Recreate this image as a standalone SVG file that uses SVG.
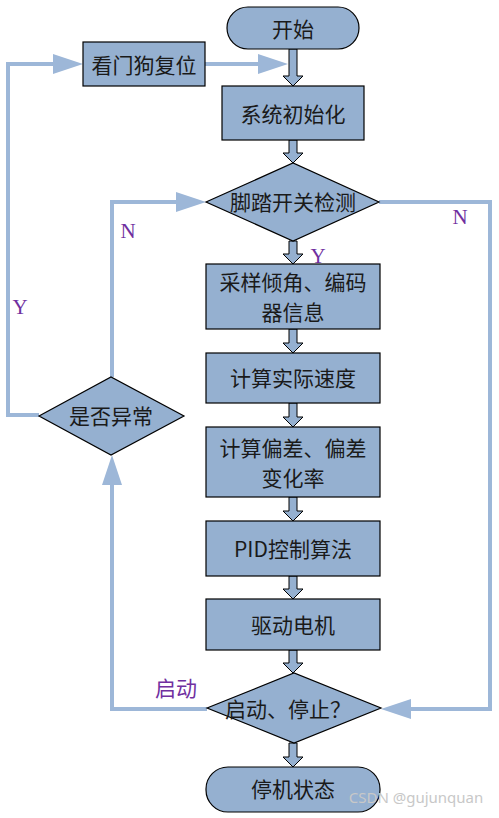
<svg xmlns="http://www.w3.org/2000/svg" width="499" height="818" viewBox="0 0 499 818">
<style>
.n{fill:#95B0D0;stroke:#000;stroke-width:1.2}
.t{font-family:"Noto Sans CJK SC","Liberation Sans",sans-serif;font-size:21px;fill:#1a1a1a;text-anchor:middle;dominant-baseline:central}
.c{fill:none;stroke:#9DB7D8;stroke-width:4}
.ba{fill:#95B0D0;stroke:#000;stroke-width:1}
.lb{font-family:"Liberation Serif",serif;font-size:21px;fill:#7030A0;text-anchor:middle;dominant-baseline:central}
.lz{font-family:"Noto Sans CJK SC","Liberation Sans",sans-serif;font-size:21px;fill:#7030A0;text-anchor:middle;dominant-baseline:central}
</style>
<defs>
<marker id="ah" markerUnits="userSpaceOnUse" markerWidth="32" markerHeight="22" refX="24" refY="10" orient="auto">
<path d="M0,0 L30,10 L0,20 Z" fill="#9DB7D8"/>
</marker>
</defs>
<g id="connectors">
<polyline class="c" points="39,415 8,415 8,64 77,64" marker-end="url(#ah)"/>
<polyline class="c" points="112,377 112,202 200,202" marker-end="url(#ah)"/>
<polyline class="c" points="379,202 490,202 490,709 387,709" marker-end="url(#ah)"/>
<polyline class="c" points="207,709 112,709 112,461" marker-end="url(#ah)"/>
<line class="c" x1="205" y1="64" x2="282" y2="64" marker-end="url(#ah)"/>
<path class="ba" d="M289,49 L297,49 L297,76 L303,76 L293,86 L283,76 L289,76 Z"/>
<path class="ba" d="M289,140 L297,140 L297,153 L303,153 L293,163 L283,153 L289,153 Z"/>
<path class="ba" d="M289,241 L297,241 L297,254 L303,254 L293,264 L283,254 L289,254 Z"/>
<path class="ba" d="M289,329 L297,329 L297,343 L303,343 L293,353 L283,343 L289,343 Z"/>
<path class="ba" d="M289,403 L297,403 L297,417 L303,417 L293,427 L283,417 L289,417 Z"/>
<path class="ba" d="M289,497 L297,497 L297,511 L303,511 L293,521 L283,511 L289,511 Z"/>
<path class="ba" d="M289,576 L297,576 L297,589 L303,589 L293,599 L283,589 L289,589 Z"/>
<path class="ba" d="M289,650 L297,650 L297,663 L303,663 L293,673 L283,663 L289,663 Z"/>
<path class="ba" d="M289,743 L297,743 L297,757 L303,757 L293,767 L283,757 L289,757 Z"/>
<text class="lb" x="20" y="307">Y</text>
<text class="lb" x="128" y="231">N</text>
<text class="lb" x="460" y="217">N</text>
<text class="lb" x="318" y="256">Y</text>
<text class="lz" x="176" y="687">启动</text>
</g>
<g id="start"><rect class="n" x="227" y="7" width="132" height="42" rx="21"/><text class="t" x="293" y="28">开始</text></g>
<g id="watchdog"><rect class="n" x="83" y="42" width="122" height="44"/><text class="t" x="144" y="64">看门狗复位</text></g>
<g id="init"><rect class="n" x="222" y="86" width="142" height="54"/><text class="t" x="293" y="113">系统初始化</text></g>
<g id="pedal"><polygon class="n" points="206,202 293,163 379,202 293,241"/><text class="t" x="293" y="201">脚踏开关检测</text></g>
<g id="sample"><rect class="n" x="206" y="264" width="174" height="65"/><text class="t" x="293" y="281">采样倾角、编码</text><text class="t" x="293" y="311">器信息</text></g>
<g id="speed"><rect class="n" x="206" y="353" width="174" height="50"/><text class="t" x="293" y="377">计算实际速度</text></g>
<g id="error"><rect class="n" x="206" y="427" width="174" height="70"/><text class="t" x="293" y="447">计算偏差、偏差</text><text class="t" x="293" y="477">变化率</text></g>
<g id="pid"><rect class="n" x="206" y="521" width="174" height="55"/><text class="t" x="293" y="548">PID控制算法</text></g>
<g id="motor"><rect class="n" x="206" y="599" width="174" height="51"/><text class="t" x="293" y="624">驱动电机</text></g>
<g id="startstop"><polygon class="n" points="207,708 294,673 381,708 294,743"/><text class="t" x="288" y="708">启动、停止？</text></g>
<g id="abnormal"><polygon class="n" points="39,416 111,377 184,416 111,455"/><text class="t" x="111" y="415">是否异常</text></g>
<g id="stop"><rect class="n" x="206" y="767" width="174" height="45" rx="22"/><text class="t" x="293" y="788">停机状态</text></g>
<text x="416" y="797" font-family="Noto Sans,Liberation Sans,sans-serif" font-size="15" fill="#c8c8c8" text-anchor="middle" dominant-baseline="central">CSDN @gujunquan</text>
</svg>
